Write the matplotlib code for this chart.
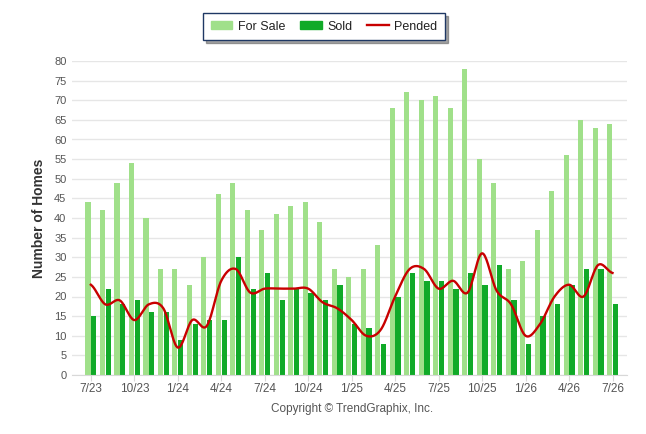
import numpy as np
import matplotlib
matplotlib.use("Agg")
import matplotlib.pyplot as plt
from matplotlib.patches import Patch
from matplotlib.lines import Line2D

plt.rcParams["font.family"] = ["Liberation Sans", "DejaVu Sans"]

months = ["7/23", "8/23", "9/23", "10/23", "11/23", "12/23",
          "1/24", "2/24", "3/24", "4/24", "5/24", "6/24",
          "7/24", "8/24", "9/24", "10/24", "11/24", "12/24",
          "1/25", "2/25", "3/25", "4/25", "5/25", "6/25",
          "7/25", "8/25", "9/25", "10/25", "11/25", "12/25",
          "1/26", "2/26", "3/26", "4/26", "5/26", "6/26", "7/26"]

for_sale = [44, 42, 49, 54, 40, 27, 27, 23, 30, 46, 49, 42,
            37, 41, 43, 44, 39, 27, 25, 27, 33, 68, 72, 70,
            71, 68, 78, 55, 49, 27, 29, 37, 47, 56, 65, 63, 64]

sold = [15, 22, 18, 19, 16, 16, 9, 13, 14, 14, 30, 22,
        26, 19, 22, 21, 19, 23, 13, 12, 8, 20, 26, 24,
        24, 22, 26, 23, 28, 19, 8, 15, 18, 23, 27, 27, 18]

pended = [23, 18, 19, 14, 18, 17, 7, 14, 12.5, 24, 27, 21,
          22, 22, 22, 22, 18.5, 17, 14, 10, 11.5, 20, 27, 27,
          22, 24, 21, 31, 21.5, 18, 10, 13, 20, 23, 20, 28, 26]

tick_every = 3

C_SALE = "#a0e08a"
C_SOLD = "#10aa28"
C_PEND = "#c80000"


def smooth(y, n=20):
    # Catmull-Rom curve through the monthly points, just for drawing
    y = np.asarray(y, dtype=float)
    p = np.concatenate([[y[0]], y, [y[-1]]])
    xs, ys = [], []
    t = np.linspace(0, 1, n, endpoint=False)
    for i in range(len(y) - 1):
        p0, p1, p2, p3 = p[i], p[i + 1], p[i + 2], p[i + 3]
        seg = 0.5 * ((2 * p1) + (-p0 + p2) * t +
                     (2 * p0 - 5 * p1 + 4 * p2 - p3) * t ** 2 +
                     (-p0 + 3 * p1 - 3 * p2 + p3) * t ** 3)
        xs.append(i + t)
        ys.append(seg)
    xs.append([len(y) - 1])
    ys.append([y[-1]])
    return np.concatenate(xs), np.concatenate(ys)


fig = plt.figure(figsize=(6.46, 4.34), dpi=100)
ax = fig.add_axes([72 / 646, 59 / 434, 555 / 646, 314 / 434])

x = np.arange(len(months))
ax.bar(x - 0.2, for_sale, width=0.36, color=C_SALE, zorder=2)
ax.bar(x + 0.2, sold, width=0.36, color=C_SOLD, zorder=2)
sx, sy = smooth(pended)
ax.plot(sx, sy, color=C_PEND, lw=1.7, zorder=3)

ax.set_xlim(-1.3, 37.0)
ax.set_ylim(0, 80)
ax.set_yticks(np.arange(0, 81, 5))
ax.set_xticks(x[::tick_every])
ax.set_xticklabels(months[::tick_every])
ax.yaxis.grid(True, color="#e6e6e6", lw=1, zorder=0)
ax.set_axisbelow(True)
for s in ["top", "right", "left"]:
    ax.spines[s].set_visible(False)
ax.spines["bottom"].set_color("#d8d8d8")
ax.tick_params(axis="y", length=0, labelsize=8, labelcolor="#555555", pad=4)
ax.tick_params(axis="x", length=4, color="#d8d8d8", labelsize=8.5, labelcolor="#555555", pad=2)

ax.set_ylabel("Number of Homes", fontsize=10, fontweight="bold", color="#333333", labelpad=6)

handles = [Patch(color=C_SALE, label="For Sale"),
           Patch(color=C_SOLD, label="Sold"),
           Line2D([], [], color=C_PEND, lw=1.7, label="Pended")]
leg = fig.legend(handles=handles, loc="upper center", bbox_to_anchor=(324 / 646, 1 - 13 / 434),
                 ncol=3, frameon=True, fancybox=False, shadow=True, fontsize=9,
                 handlelength=1.75, handleheight=0.6, columnspacing=1.15,
                 borderpad=0.6, handletextpad=0.45, borderaxespad=0)
leg.get_frame().set_edgecolor("#1f3864")
leg.get_frame().set_linewidth(1.0)
for t in leg.get_texts():
    t.set_color("#222222")

fig.text(352 / 646, 1 - 409 / 434, "Copyright \u00a9 TrendGraphix, Inc.", ha="center", va="center",
         fontsize=8.5, color="#555555")

fig.savefig("out.png", dpi=100)
